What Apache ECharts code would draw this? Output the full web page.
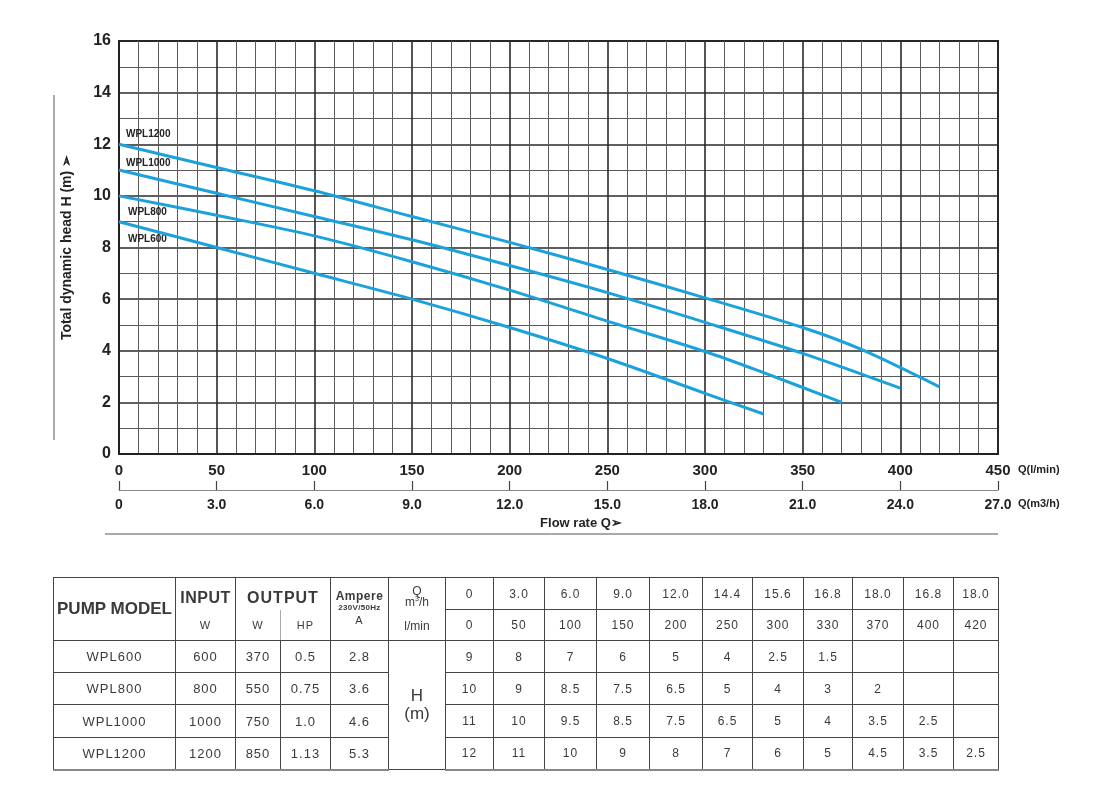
<!DOCTYPE html>
<html>
<head>
<meta charset="utf-8">
<script src="https://cdn.jsdelivr.net/npm/echarts@6/dist/echarts.min.js"></script>
<style>
    html, body { margin: 0; padding: 0; background: #fff; }
    #wrap { position: relative; width: 1118px; height: 795px; overflow: hidden; }
    #chart { position: absolute; left: 0; top: 0; width: 1118px; height: 795px; }
    #pump-table {
        position: absolute; left: 53px; top: 577px; width: 945px;
        border-collapse: collapse; table-layout: fixed;
        font-family: "Liberation Sans", Arial, sans-serif; color: #3a3a3a;
        font-size: 13px; letter-spacing: 1px; text-align: center;
    }
    #pump-table td { border: 1px solid #444; padding: 0; position: relative; }
    #pump-table tr:last-child td { border-bottom: 2px solid #888; }
    #pump-table .nb { border-bottom: none; }
    #pump-table .nt { border-top: none; }
    #pump-table .ab { position: absolute; left: 0; right: 0; line-height: 1; }
</style>
</head>
<body>
<div id="wrap">
    <div id="chart"></div>
    <table id="pump-table"></table>
</div>
<script>
// 曲线数据, [流量 l/min, 扬程 m]
var curve600 = [[0, 9], [50, 8.0], [100, 7.0], [150, 6.0], [200, 4.9], [250, 3.7], [300, 2.35], [330, 1.55]];
var curve800 = [[0, 10], [50, 9.25], [100, 8.45], [150, 7.45], [200, 6.35], [250, 5.15], [300, 3.97], [330, 3.15], [370, 2.0]];
var curve1000 = [[0, 11], [50, 10.1], [100, 9.2], [150, 8.3], [200, 7.3], [250, 6.25], [300, 5.1], [350, 3.9], [400, 2.55]];
var curve1200 = [[0, 12], [50, 11.1], [100, 10.2], [150, 9.2], [200, 8.2], [250, 7.15], [300, 6.05], [350, 4.9], [380, 4.05], [420, 2.6]];

// 表格数据
var models = ['WPL600', 'WPL800', 'WPL1000', 'WPL1200'];
var inputW = ['600', '800', '1000', '1200'];
var outputW = ['370', '550', '750', '850'];
var outputHP = ['0.5', '0.75', '1.0', '1.13'];
var ampere = ['2.8', '3.6', '4.6', '5.3'];
var flowM3h = ['0', '3.0', '6.0', '9.0', '12.0', '14.4', '15.6', '16.8', '18.0', '16.8', '18.0'];
var flowLmin = ['0', '50', '100', '150', '200', '250', '300', '330', '370', '400', '420'];
var headTable = [
    ['9', '8', '7', '6', '5', '4', '2.5', '1.5', '', '', ''],
    ['10', '9', '8.5', '7.5', '6.5', '5', '4', '3', '2', '', ''],
    ['11', '10', '9.5', '8.5', '7.5', '6.5', '5', '4', '3.5', '2.5', ''],
    ['12', '11', '10', '9', '8', '7', '6', '5', '4.5', '3.5', '2.5']
];

var lineColor = '#1ba1dc';
var font = '"Liberation Sans", Arial, sans-serif';

var myChart = echarts.init(document.getElementById('chart'));
var curves = [curve600, curve800, curve1000, curve1200];
var series = [];
for (var i = 0; i < curves.length; i++) {
    series.push({
        name: models[i],
        type: 'line',
        smooth: 0.3,
        symbol: 'none',
        lineStyle: { color: lineColor, width: 3 },
        data: curves[i]
    });
}

var option = {
    animation: false,
    grid: {
        left: 119, top: 41, width: 879, height: 413,
        show: true, borderColor: '#222', borderWidth: 2, backgroundColor: 'transparent'
    },
    xAxis: [
        {
            type: 'value', min: 0, max: 450, interval: 50, position: 'bottom',
            axisLine: { show: true, lineStyle: { color: '#222', width: 2 } },
            axisTick: { show: false },
            axisLabel: { margin: 9, color: '#222', fontSize: 15, fontWeight: 'bold', fontFamily: font },
            splitLine: { show: true, lineStyle: { color: '#2a2a2a', width: 1.6 } },
            minorTick: { show: false, splitNumber: 5 },
            minorSplitLine: { show: true, lineStyle: { color: '#5a5a5a', width: 1 } }
        },
        {
            type: 'value', min: 0, max: 27, interval: 3, position: 'bottom', offset: 36,
            axisLine: { show: true, lineStyle: { color: '#888', width: 1.2 } },
            axisTick: { show: true, inside: true, length: 9, lineStyle: { color: '#444', width: 1.2 } },
            axisLabel: {
                margin: 8, color: '#222', fontSize: 14, fontWeight: 'bold', fontFamily: font,
                formatter: function (v) { return v === 0 ? '0' : v.toFixed(1); }
            },
            splitLine: { show: false }
        }
    ],
    yAxis: {
        type: 'value', min: 0, max: 16, interval: 2,
        name: 'Total dynamic head H (m) ➢',
        nameLocation: 'middle', nameGap: 45, nameRotate: 90,
        nameTextStyle: { color: '#222', fontSize: 14, fontWeight: 'bold', fontFamily: font },
        axisLine: { show: true, lineStyle: { color: '#222', width: 2 } },
        axisTick: { show: false },
        axisLabel: { margin: 8, color: '#222', fontSize: 16, fontWeight: 'bold', fontFamily: font },
        splitLine: { show: true, lineStyle: { color: '#2a2a2a', width: 1.6 } },
        minorTick: { show: false, splitNumber: 2 },
        minorSplitLine: { show: true, lineStyle: { color: '#5a5a5a', width: 1 } }
    },
    series: series
};
myChart.setOption(option);

// 曲线名称与其它文字
var labelOffsets = [[9, 18], [9, 16], [7, -7], [7, -10]];
var graphics = [];
for (var i = 0; i < curves.length; i++) {
    var p = myChart.convertToPixel({ xAxisIndex: 0, yAxisIndex: 0 }, curves[i][0]);
    graphics.push({
        type: 'text', x: p[0] + labelOffsets[i][0], y: p[1] + labelOffsets[i][1],
        style: { text: models[i], fill: '#222', font: 'bold 10px ' + font, textVerticalAlign: 'middle' }
    });
}
graphics.push(
    { type: 'text', x: 1018, y: 470, style: { text: 'Q(l/min)', fill: '#222', font: 'bold 11px ' + font, textVerticalAlign: 'middle' } },
    { type: 'text', x: 1018, y: 504, style: { text: 'Q(m3/h)', fill: '#222', font: 'bold 11px ' + font, textVerticalAlign: 'middle' } },
    { type: 'text', x: 581, y: 523, style: { text: 'Flow rate Q➢', fill: '#222', font: 'bold 13px ' + font, textAlign: 'center', textVerticalAlign: 'middle' } },
    { type: 'line', shape: { x1: 105, y1: 534, x2: 998, y2: 534 }, style: { stroke: '#555', lineWidth: 1 } },
    { type: 'line', shape: { x1: 54, y1: 95, x2: 54, y2: 440 }, style: { stroke: '#555', lineWidth: 1 } }
);
myChart.setOption({ graphic: graphics });

// 表格
var colW = [122, 60, 45, 50, 58, 57, 48, 51, 52, 53, 53, 50, 51, 49, 51, 50, 45];
var rowH = [32, 31, 32, 32, 33, 32];
var html = '<colgroup>';
for (var i = 0; i < colW.length; i++) html += '<col style="width:' + colW[i] + 'px">';
html += '</colgroup>';

html += '<tr style="height:' + rowH[0] + 'px">';
html += '<td rowspan="2" style="font-weight:bold;font-size:17px;letter-spacing:0">PUMP MODEL</td>';
html += '<td class="nb" style="font-weight:bold;font-size:16px;letter-spacing:0.5px;vertical-align:bottom;padding-bottom:3px">INPUT</td>';
html += '<td class="nb" colspan="2" style="font-weight:bold;font-size:16px;vertical-align:bottom;padding-bottom:3px">OUTPUT</td>';
html += '<td rowspan="2"><span class="ab" style="top:12px;font-weight:bold;font-size:12px;letter-spacing:0.5px">Ampere</span>' +
    '<span class="ab" style="top:26px;font-weight:bold;font-size:8px;letter-spacing:0.3px">230V/50Hz</span>' +
    '<span class="ab" style="top:37px;font-size:11px">A</span></td>';
html += '<td rowspan="2"><span class="ab" style="top:7px;font-size:12px;letter-spacing:0">Q</span>' +
    '<span class="ab" style="top:18px;font-size:12px;letter-spacing:0">m<sup style="font-size:7px;line-height:0">3</sup>/h</span>' +
    '<span class="ab" style="top:42px;font-size:12px;letter-spacing:0">l/min</span></td>';
for (var j = 0; j < flowM3h.length; j++) html += '<td style="font-size:12px">' + flowM3h[j] + '</td>';
html += '</tr>';

html += '<tr style="height:' + rowH[1] + 'px">';
html += '<td class="nt" style="font-size:11px">W</td>';
html += '<td class="nt" style="font-size:11px;border-right:1px solid #aaa">W</td>';
html += '<td class="nt" style="font-size:11px">HP</td>';
for (var j = 0; j < flowLmin.length; j++) html += '<td style="font-size:12px">' + flowLmin[j] + '</td>';
html += '</tr>';

for (var i = 0; i < models.length; i++) {
    html += '<tr style="height:' + rowH[i + 2] + 'px">';
    html += '<td>' + models[i] + '</td><td>' + inputW[i] + '</td><td>' + outputW[i] + '</td>';
    html += '<td>' + outputHP[i] + '</td><td>' + ampere[i] + '</td>';
    if (i === 0) {
        html += '<td rowspan="4" style="font-size:17px;line-height:18px;letter-spacing:0">H<br>(m)</td>';
    }
    for (var j = 0; j < headTable[i].length; j++) html += '<td style="font-size:12px">' + headTable[i][j] + '</td>';
    html += '</tr>';
}
document.getElementById('pump-table').innerHTML = html;
</script>
</body>
</html>
